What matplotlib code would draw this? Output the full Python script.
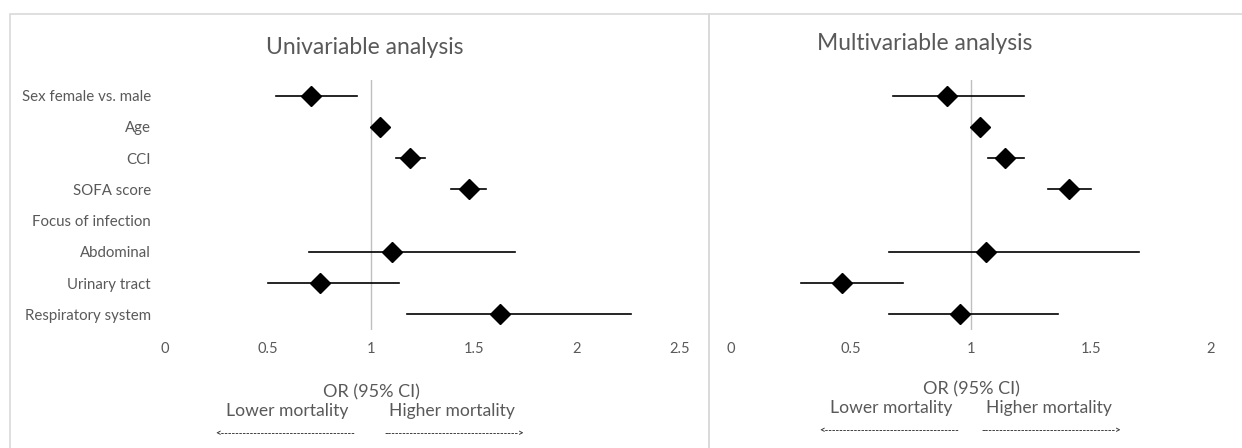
import numpy as np
import matplotlib
matplotlib.use('Agg')
import matplotlib.pyplot as plt
from matplotlib.patches import Rectangle

plt.rcParams['font.family'] = ['Lato', 'DejaVu Sans']

labels = ['Sex female vs. male', 'Age', 'CCI', 'SOFA score', 'Focus of infection',
          'Abdominal', 'Urinary tract', 'Respiratory system']

# univariable OR with 95% CI (nan = header row without estimate)
uni_or = [0.71, 1.045, 1.19, 1.475, np.nan, 1.10, 0.75, 1.625]
uni_lo = [0.54, 1.03, 1.12, 1.39, np.nan, 0.70, 0.50, 1.175]
uni_hi = [0.93, 1.06, 1.26, 1.56, np.nan, 1.70, 1.135, 2.26]

# multivariable OR with 95% CI
multi_or = [0.90, 1.037, 1.142, 1.408, np.nan, 1.062, 0.463, 0.954]
multi_lo = [0.675, 1.02, 1.07, 1.32, np.nan, 0.66, 0.29, 0.66]
multi_hi = [1.22, 1.05, 1.22, 1.50, np.nan, 1.70, 0.717, 1.362]

uni_ticks = [0, 0.5, 1, 1.5, 2, 2.5]
multi_ticks = [0, 0.5, 1, 1.5, 2]

W, H = 1242, 448
GRAY = '#595959'


def px(x, y):
    return x / W, 1 - y / H


def forest(ax, est, lo, hi, ticks, show_labels):
    rows = np.arange(len(labels))
    ax.axvline(1, color='#bfbfbf', lw=1, zorder=1)
    for i in rows:
        if np.isnan(est[i]):
            continue
        ax.plot([lo[i], hi[i]], [i, i], color='black', lw=1.2, zorder=2)
    ax.plot(est, rows, 'D', color='black', ms=10, zorder=3)
    ax.set_xlim(ticks[0], ticks[-1])
    ax.set_ylim(len(labels) - 0.5, -0.5)
    ax.set_xticks(ticks)
    ax.set_xticklabels([f'{t:g}' for t in ticks])
    ax.set_yticks(rows)
    if show_labels:
        ax.set_yticklabels(labels)
    else:
        ax.set_yticklabels([])
    for s in ax.spines.values():
        s.set_visible(False)
    ax.tick_params(length=0, colors=GRAY)
    ax.tick_params(axis='x', pad=8.5, labelsize=10.5)
    ax.tick_params(axis='y', pad=10, labelsize=10.8)
    ax.patch.set_alpha(0)


def main():
    fig = plt.figure(figsize=(W / 100, H / 100), dpi=100)

    # panel frames
    fig.patches.append(Rectangle(px(10, 460), 699 / W, 446 / H, transform=fig.transFigure,
                                 fill=False, ec='#d9d9d9', lw=1.2))
    fig.patches.append(Rectangle(px(709, 460), 540 / W, 446 / H, transform=fig.transFigure,
                                 fill=False, ec='#d9d9d9', lw=1.2))

    ax1 = fig.add_axes([165 / W, 1 - 330 / H, 515 / W, 250 / H])
    forest(ax1, uni_or, uni_lo, uni_hi, uni_ticks, True)
    ax2 = fig.add_axes([731 / W, 1 - 330 / H, 480 / W, 250 / H])
    forest(ax2, multi_or, multi_lo, multi_hi, multi_ticks, False)

    fig.text(*px(365, 47), 'Univariable analysis', ha='center', va='center', fontsize=16.5, color=GRAY)
    fig.text(*px(925, 44), 'Multivariable analysis', ha='center', va='center', fontsize=16.5, color=GRAY)

    for cx, lx, hx, y0 in [(371, 287, 452, 392), (971, 891, 1049, 389)]:
        fig.text(*px(cx, y0), 'OR (95% CI)', ha='center', va='center', fontsize=13, color=GRAY)
        fig.text(*px(lx, y0 + 19), 'Lower mortality', ha='center', va='center', fontsize=12.6, color=GRAY)
        fig.text(*px(hx, y0 + 19), 'Higher mortality', ha='center', va='center', fontsize=12.6, color=GRAY)
        fig.text(*px(lx - 2, y0 + 42), '<' + '-' * 37, ha='center', va='center', fontsize=7,
                 color='#333333', fontweight='bold')
        fig.text(*px(hx + 2, y0 + 42), '-' * 37 + '>', ha='center', va='center', fontsize=7,
                 color='#333333', fontweight='bold')

    fig.savefig('out.png', dpi=100, facecolor='white')


if __name__ == '__main__':
    main()
